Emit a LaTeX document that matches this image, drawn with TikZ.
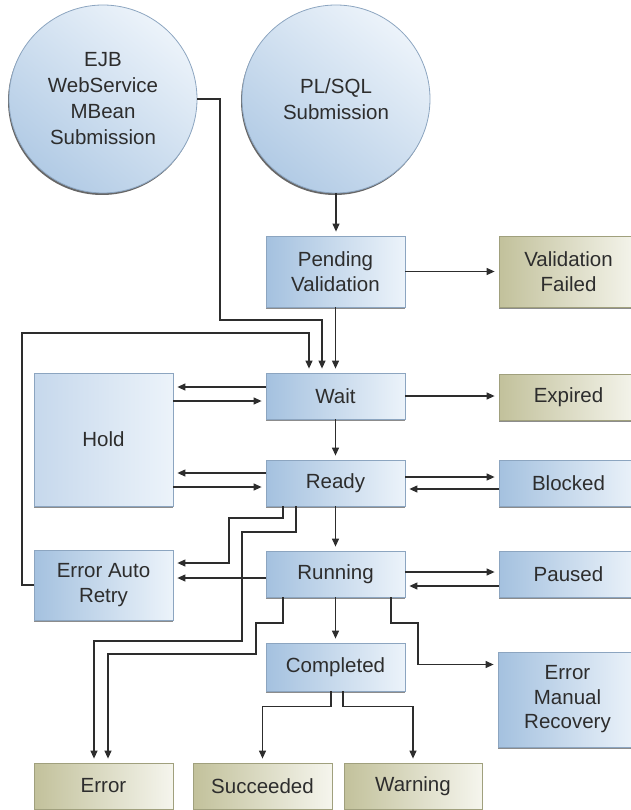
\documentclass[tikz,border=0pt]{standalone}
\usepackage{fontspec}
\setmainfont{Liberation Sans}
\usepackage{tikz}
\definecolor{stateBlue}{RGB}{164, 193, 223}
\definecolor{stateBlueLight}{RGB}{236, 243, 250}
\definecolor{holdBlue}{RGB}{198, 216, 236}
\definecolor{sourceBlue}{RGB}{178, 203, 229}
\definecolor{endOlive}{RGB}{194, 193, 155}
\definecolor{endOliveLight}{RGB}{245, 245, 237}
\definecolor{edgeBlue}{RGB}{140, 165, 192}
\definecolor{edgeOlive}{RGB}{160, 160, 125}
\definecolor{wireGray}{RGB}{45, 45, 45}
\definecolor{labelGray}{RGB}{45, 45, 45}
\usetikzlibrary{shapes.geometric, arrows.meta, positioning, shadows, calc}

\tikzset{
    state/.style={
        rectangle,
        draw=edgeBlue,
        line width=0.8pt,
        left color=stateBlue,
        right color=stateBlueLight,
        minimum width=139pt,
        minimum height=46pt,
        inner sep=0pt,
        align=center,
        text=labelGray,
        font=\fontsize{20.5}{24.5}\selectfont,
        general shadow={shadow yshift=-1.5pt, fill=black!45}
    },
    final/.style={state, draw=edgeOlive, left color=endOlive, right color=endOliveLight},
    holdbox/.style={state, left color=holdBlue, right color=stateBlueLight},
    source/.style={
        circle,
        draw=edgeBlue,
        line width=0.8pt,
        minimum size=188pt,
        inner sep=0pt,
        top color=stateBlueLight,
        bottom color=sourceBlue,
        shading angle=-40,
        align=center,
        text=labelGray,
        font=\fontsize{20.5}{26}\selectfont,
        general shadow={shadow xshift=-1pt, shadow yshift=-2pt, fill=black!60}
    },
    arr/.style={draw=wireGray, line width=1.2pt, shorten >=4pt, -{Triangle[length=8pt, width=7pt]}}
}

\begin{document}
\begin{tikzpicture}[x=1pt, y=-1pt]
    \useasboundingbox (0,0) rectangle (630,810);

    % submissions
    \node[source] (ejb) at (103,99) {EJB\\WebService\\MBean\\Submission};
    \node[source] (plsql) at (336,99) {PL/SQL\\Submission};

    % states
    \node[state, minimum height=71pt] (pending) at (335.5,271.5) {Pending\\Validation};
    \node[final, minimum height=71pt] (vfailed) at (568.5,271.5) {Validation\\Failed};
    \node[state] (wait) at (335.5,396) {Wait};
    \node[final] (expired) at (568.5,397) {Expired};
    \node[holdbox, minimum height=133pt] (hold) at (103.5,439.5) {Hold};
    \node[state] (ready) at (335.5,483) {Ready};
    \node[state] (blocked) at (568.5,483) {Blocked};
    \node[state, minimum height=70pt] (retry) at (103.5,585) {Error Auto\\Retry};
    \node[state] (running) at (335.5,574) {Running};
    \node[state] (paused) at (568.5,574) {Paused};
    \node[state, minimum height=48pt] (completed) at (335.5,667) {Completed};
    \node[state, minimum height=95pt] (manual) at (567.5,699.5) {Error\\Manual\\Recovery};
    \node[final] (error) at (103.5,786) {Error};
    \node[final] (succeeded) at (262.5,786) {Succeeded};
    \node[final, minimum width=138pt] (warning) at (413,786) {Warning};

    % into wait
    \draw[arr] (ejb.east) -| (220,320) -| ($(wait.north)+(-13.5,0)$);
    \draw[arr] (plsql.south) -- (plsql.south |- pending.north);
    \draw[arr] (pending.east) -- (vfailed.west);
    \draw[arr] (pending.south) -- (wait.north);
    \draw[arr] (retry.west) -| (22,333) -| ($(wait.north)+(-26.5,0)$);

    % hold
    \draw[arr] ($(wait.west)+(0,-9)$) -- ($(hold.east |- wait.west)+(0,-9)$);
    \draw[arr] ($(hold.east |- wait.west)+(0,5)$) -- ($(wait.west)+(0,5)$);
    \draw[arr] ($(ready.west)+(0,-10)$) -- ($(hold.east |- ready.west)+(0,-10)$);
    \draw[arr] ($(hold.east |- ready.west)+(0,4)$) -- ($(ready.west)+(0,4)$);

    % main line
    \draw[arr] (wait.east) -- (wait.east -| expired.west);
    \draw[arr] (wait.south) -- (ready.north);
    \draw[arr] ($(ready.east)+(0,-6)$) -- ($(blocked.west)+(0,-6)$);
    \draw[arr] ($(blocked.west)+(0,6)$) -- ($(ready.east)+(0,6)$);
    \draw[arr] (ready.south) -- (running.north);
    \draw[arr] ($(running.east)+(0,-2)$) -- ($(paused.west)+(0,-2)$);
    \draw[arr] ($(paused.west)+(0,12)$) -- ($(running.east)+(0,12)$);
    \draw[arr] (running.south) -- (completed.north);

    % errors
    \draw[arr] ($(running.west)+(0,4)$) -- ($(retry.east |- running.west)+(0,4)$);
    \draw[arr] ($(ready.south)+(-52.5,0)$) |- (229,518) |- ($(retry.east)+(0,-22)$);
    \draw[arr] ($(ready.south)+(-39.5,0)$) |- (242,532) -- (242,641) -| ($(error.north)+(-9.5,0)$);
    \draw[arr] ($(running.south)+(-52.5,0)$) |- (256,623) -- (256,654) -| ($(error.north)+(4.5,0)$);
    \draw[arr] ($(running.south)+(55.5,0)$) |- (418,623) |- ($(manual.west)+(0,-35)$);

    % completed
    \draw[arr] ($(completed.south)+(-4.5,0)$) -- ++(0,15) -| (succeeded.north);
    \draw[arr] ($(completed.south)+(7.5,0)$) -- ++(0,15) -| (warning.north);
\end{tikzpicture}
\end{document}
